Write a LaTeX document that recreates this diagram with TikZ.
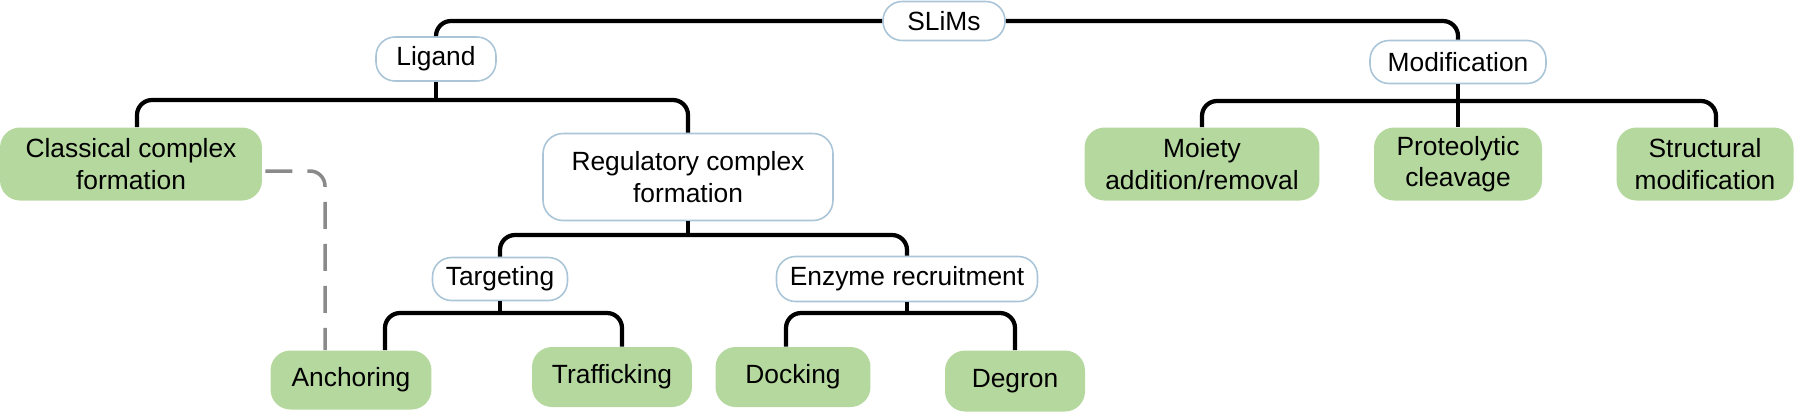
\documentclass[tikz,border=0pt]{standalone}
\usepackage{fontspec}
\setmainfont{Liberation Sans}
\usetikzlibrary{calc}
\definecolor{LeafGreen}{HTML}{B5D89F}
\definecolor{PillLine}{HTML}{A9C5D7}
\definecolor{DashGrey}{HTML}{8A8A8A}

\begin{document}
\begin{tikzpicture}[x=0.02cm,y=-0.02cm]
    \tikzset{pill/.style={draw=PillLine,line width=0.9pt,fill=white,rounded corners=0.38cm,
      inner sep=0pt,align=center,font=\fontsize{15}{18}\selectfont},
      leaf/.style={fill=LeafGreen,rounded corners=0.4cm,inner sep=0pt,align=center,
      font=\fontsize{15}{18}\selectfont},
      tree/.style={line width=2.4pt,rounded corners=0.3cm},
      link/.style={draw=DashGrey,line width=2pt,dash pattern=on 0.54cm off 0.3cm,rounded corners=0.3cm}}
    \useasboundingbox (0,0) rectangle (1794,414);
    \node[pill,minimum width=2.44cm,minimum height=0.78cm] (slims) at (944,21) {SLiMs};
    \node[pill,minimum width=2.4cm,minimum height=0.88cm] (ligand) at (436,59) {Ligand};
    \node[pill,minimum width=3.52cm,minimum height=0.86cm] (modif) at (1458,62) {Modification};
    \node[leaf,minimum width=5.24cm,minimum height=1.46cm] (classical) at (131,164) {Classical complex\\formation};
    \node[pill,rounded corners=0.4cm,minimum width=5.8cm,minimum height=1.74cm] (regul) at (688,177) {Regulatory complex\\formation};
    \node[pill,minimum width=2.7cm,minimum height=0.86cm] (target) at (500,279) {Targeting};
    \node[pill,minimum width=5.22cm,minimum height=0.9cm] (enzyme) at (907,279) {Enzyme recruitment};
    \node[leaf,minimum width=3.22cm,minimum height=1.18cm] (anchor) at (351,380) {Anchoring};
    \node[leaf,minimum width=3.2cm,minimum height=1.2cm] (traffic) at (612,377) {Trafficking};
    \node[leaf,minimum width=3.1cm,minimum height=1.2cm] (docking) at (793,377) {Docking};
    \node[leaf,minimum width=2.8cm,minimum height=1.22cm] (degron) at (1015,381) {Degron};
    \node[leaf,minimum width=4.7cm,minimum height=1.46cm] (moiety) at (1202,164) {Moiety\\addition/removal};
    \node[leaf,minimum width=3.36cm,minimum height=1.46cm] (proteo) at (1458,164) {Proteolytic\\cleavage};
    \node[leaf,minimum width=3.54cm,minimum height=1.46cm] (struct) at (1705,164) {Structural\\modification};
    \coordinate (ligbar) at (436,100);
    \coordinate (modbar) at (1458,101);
    \coordinate (regbar) at (688,235);
    \coordinate (tarbar) at (500,313);
    \coordinate (enzbar) at (907,313);
    \draw[tree] (slims.west) -| (ligand.north);
    \draw[tree] (slims.east) -| (modif.north);
    \draw[tree] (ligand.south) -- (ligbar);
    \draw[tree] (ligbar) -| ([xshift=0.12cm]classical.north);
    \draw[tree] (ligbar) -| (regul.north);
    \draw[tree] (modif.south) -- (proteo.north);
    \draw[tree] (modbar) -| (moiety.north);
    \draw[tree] (modbar) -| ([xshift=0.22cm]struct.north);
    \draw[tree] (regul.south) -- (regbar);
    \draw[tree] (regbar) -| (target.north);
    \draw[tree] (regbar) -| (enzyme.north);
    \draw[tree] (target.south) -- (tarbar);
    \draw[tree] (tarbar) -| ([xshift=0.68cm]anchor.north);
    \draw[tree] (tarbar) -| ([xshift=0.2cm]traffic.north);
    \draw[tree] (enzyme.south) -- (enzbar);
    \draw[tree] (enzbar) -| ([xshift=-0.14cm]docking.north);
    \draw[tree] (enzbar) -| (degron.north);
    \draw[link] ([xshift=0.06cm,yshift=-0.14cm]classical.east) -| ([xshift=-0.52cm]anchor.north);
  \end{tikzpicture}
\end{document}
